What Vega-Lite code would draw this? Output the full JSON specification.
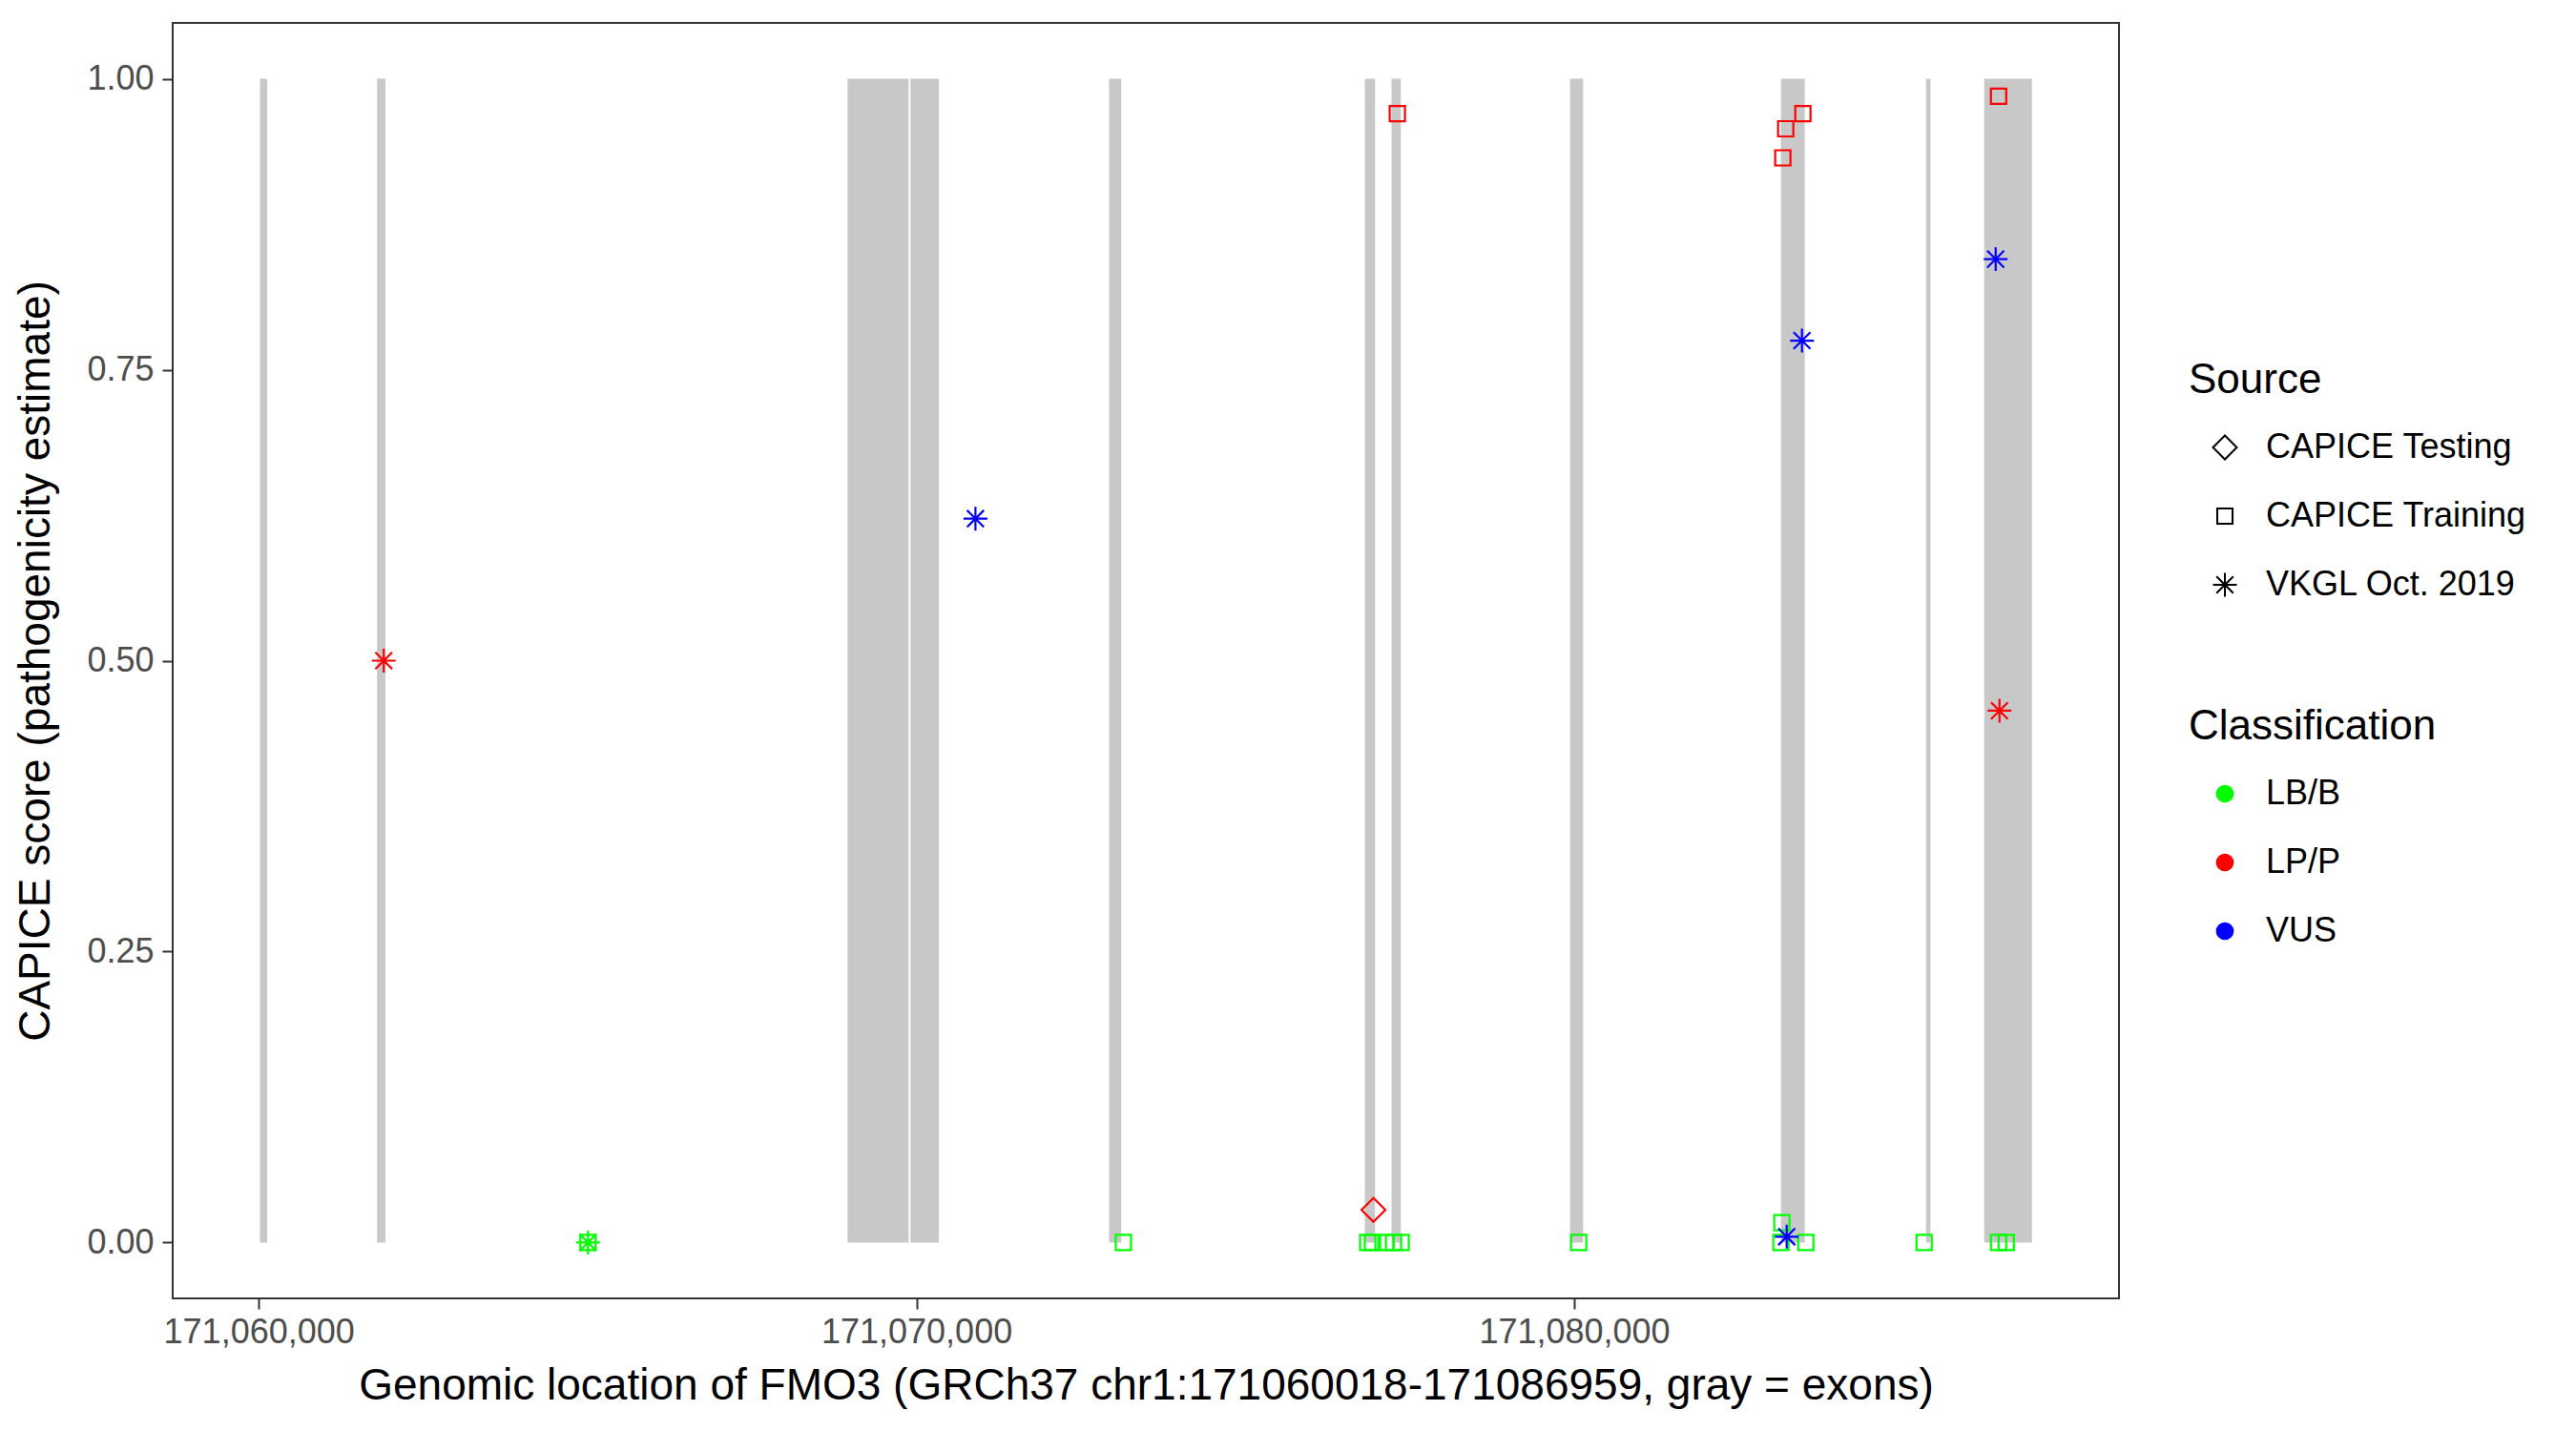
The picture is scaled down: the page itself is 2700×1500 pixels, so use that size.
{
  "$schema": "https://vega.github.io/schema/vega-lite/v6.json",
  "width": 2040,
  "height": 1337,
  "autosize": {"type": "none"},
  "padding": {"left": 181, "top": 24, "right": 479, "bottom": 139},
  "background": "white",
  "datasets": {
    "exons": [
      {"start": 171060018, "end": 171060130},
      {"start": 171061799, "end": 171061926},
      {"start": 171068953, "end": 171069881},
      {"start": 171069910, "end": 171070341},
      {"start": 171072929, "end": 171073113},
      {"start": 171076817, "end": 171076972},
      {"start": 171077223, "end": 171077364},
      {"start": 171079937, "end": 171080136},
      {"start": 171083143, "end": 171083506},
      {"start": 171085349, "end": 171085417},
      {"start": 171086234, "end": 171086959}
    ],
    "variants": [
      {"pos": 171061901, "score": 0.5, "source": "VKGL Oct. 2019", "classification": "LP/P"},
      {"pos": 171065006, "score": 0, "source": "CAPICE Training", "classification": "LB/B"},
      {"pos": 171065006, "score": 0, "source": "VKGL Oct. 2019", "classification": "LB/B"},
      {"pos": 171070897, "score": 0.622, "source": "VKGL Oct. 2019", "classification": "VUS"},
      {"pos": 171073146, "score": 0, "source": "CAPICE Training", "classification": "LB/B"},
      {"pos": 171076861, "score": 0, "source": "CAPICE Training", "classification": "LB/B"},
      {"pos": 171076933, "score": 0, "source": "CAPICE Training", "classification": "LB/B"},
      {"pos": 171077137, "score": 0, "source": "CAPICE Training", "classification": "LB/B"},
      {"pos": 171077253, "score": 0, "source": "CAPICE Training", "classification": "LB/B"},
      {"pos": 171077369, "score": 0, "source": "CAPICE Training", "classification": "LB/B"},
      {"pos": 171076948, "score": 0.028, "source": "CAPICE Testing", "classification": "LP/P"},
      {"pos": 171077311, "score": 0.97, "source": "CAPICE Training", "classification": "LP/P"},
      {"pos": 171080068, "score": 0, "source": "CAPICE Training", "classification": "LB/B"},
      {"pos": 171083158, "score": 0.017, "source": "CAPICE Training", "classification": "LB/B"},
      {"pos": 171083143, "score": 0, "source": "CAPICE Training", "classification": "LB/B"},
      {"pos": 171083521, "score": 0, "source": "CAPICE Training", "classification": "LB/B"},
      {"pos": 171083172, "score": 0.932, "source": "CAPICE Training", "classification": "LP/P"},
      {"pos": 171083216, "score": 0.957, "source": "CAPICE Training", "classification": "LP/P"},
      {"pos": 171083477, "score": 0.97, "source": "CAPICE Training", "classification": "LP/P"},
      {"pos": 171083463, "score": 0.775, "source": "VKGL Oct. 2019", "classification": "VUS"},
      {"pos": 171083231, "score": 0.005, "source": "VKGL Oct. 2019", "classification": "VUS"},
      {"pos": 171085320, "score": 0, "source": "CAPICE Training", "classification": "LB/B"},
      {"pos": 171086452, "score": 0, "source": "CAPICE Training", "classification": "LB/B"},
      {"pos": 171086568, "score": 0, "source": "CAPICE Training", "classification": "LB/B"},
      {"pos": 171086452, "score": 0.985, "source": "CAPICE Training", "classification": "LP/P"},
      {"pos": 171086408, "score": 0.845, "source": "VKGL Oct. 2019", "classification": "VUS"},
      {"pos": 171086466, "score": 0.457, "source": "VKGL Oct. 2019", "classification": "LP/P"}
    ]
  },
  "config": {
    "font": "Liberation Sans",
    "view": {"stroke": "#333333", "strokeWidth": 2},
    "axis": {
      "grid": false,
      "domain": false,
      "labelFontSize": 36,
      "labelColor": "#4D4D4D",
      "labelLimit": 500,
      "titleFontSize": 46,
      "titleFontWeight": "normal",
      "titleColor": "black",
      "titleLimit": 2000,
      "tickColor": "#333333",
      "tickWidth": 2,
      "tickSize": 11
    },
    "legend": {
      "titleFontSize": 44,
      "titleFontWeight": "normal",
      "titleColor": "black",
      "titleLimit": 800,
      "labelFontSize": 36,
      "labelColor": "black",
      "labelLimit": 800,
      "rowPadding": 36,
      "titlePadding": 30,
      "symbolOffset": 20,
      "labelOffset": 25
    }
  },
  "layer": [
    {
      "data": {"name": "exons"},
      "mark": {"type": "rect", "color": "#C8C8C8"},
      "encoding": {
        "x": {
          "field": "start",
          "type": "quantitative",
          "scale": {"domain": [171058692, 171088283], "nice": false, "zero": false},
          "axis": {
            "title": "Genomic location of FMO3 (GRCh37 chr1:171060018-171086959, gray = exons)",
            "values": [171060000, 171070000, 171080000],
            "format": ",.0f",
            "labelPadding": 7,
            "titlePadding": 16
          }
        },
        "x2": {"field": "end"},
        "y": {
          "datum": 0,
          "type": "quantitative",
          "scale": {"domain": [-0.048, 1.048], "nice": false, "zero": false},
          "axis": {
            "title": "CAPICE score (pathogenicity estimate)",
            "values": [0, 0.25, 0.5, 0.75, 1],
            "format": ".2f",
            "labelPadding": 9,
            "titlePadding": 29
          }
        },
        "y2": {"datum": 1}
      }
    },
    {
      "data": {"name": "variants"},
      "mark": {"type": "point", "filled": true, "shape": "circle", "size": 350, "opacity": 0},
      "encoding": {
        "x": {"field": "pos", "type": "quantitative"},
        "y": {"field": "score", "type": "quantitative"},
        "fill": {
          "field": "classification",
          "type": "nominal",
          "scale": {"domain": ["LB/B", "LP/P", "VUS"], "range": ["#00FF00", "#FF0000", "#0000FF"]},
          "legend": {
            "title": "Classification",
            "orient": "none",
            "legendX": 2113,
            "legendY": 716,
            "symbolType": "circle",
            "symbolSize": 350,
            "symbolOpacity": 1,
            "symbolStrokeWidth": 0
          }
        }
      }
    },
    {
      "data": {"name": "variants"},
      "mark": {"type": "point", "filled": false, "strokeWidth": 2.2, "size": 256, "opacity": 1},
      "encoding": {
        "x": {"field": "pos", "type": "quantitative"},
        "y": {"field": "score", "type": "quantitative"},
        "shape": {
          "field": "source",
          "type": "nominal",
          "scale": {
            "domain": ["CAPICE Testing", "CAPICE Training", "VKGL Oct. 2019"],
            "range": ["M-1.56,0L0,-1.56L1.56,0L0,1.56Z", "square", "M0,-1.56L0,1.56M-1.56,0L1.56,0M-1.1,-1.1L1.1,1.1M-1.1,1.1L1.1,-1.1"]
          },
          "legend": {
            "title": "Source",
            "orient": "none",
            "legendX": 2113,
            "legendY": 353,
            "symbolSize": 256,
            "symbolStrokeColor": "black",
            "symbolStrokeWidth": 2
          }
        },
        "color": {
          "field": "classification",
          "type": "nominal",
          "scale": {"domain": ["LB/B", "LP/P", "VUS"], "range": ["#00FF00", "#FF0000", "#0000FF"]},
          "legend": null
        }
      }
    }
  ]
}
